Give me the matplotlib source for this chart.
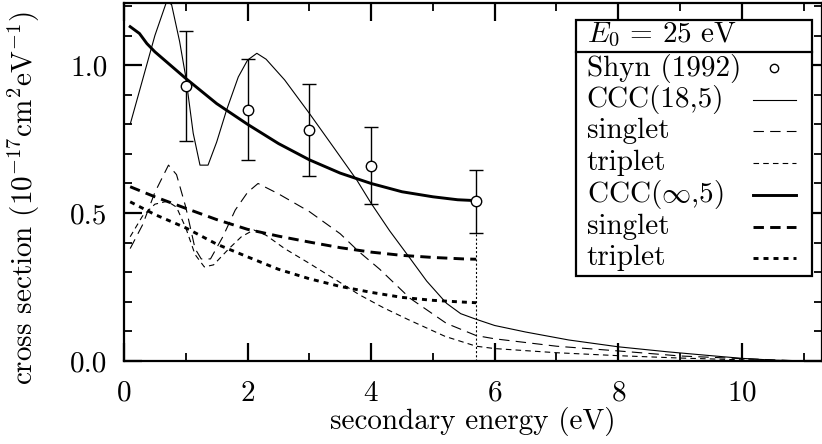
import matplotlib
matplotlib.use("Agg")
import matplotlib.pyplot as plt
from matplotlib.lines import Line2D
from matplotlib.patches import Rectangle

plt.rcParams['font.family'] = ['cmr10', 'DejaVu Serif']
plt.rcParams['mathtext.fontset'] = 'cm'
plt.rcParams['axes.formatter.use_mathtext'] = True
plt.rcParams['axes.unicode_minus'] = False
plt.rcParams['lines.scale_dashes'] = False

# ---------------- data ----------------
# Shyn (1992) experiment
shyn_x = [1.0, 2.0, 3.0, 4.0, 5.7]
shyn_y = [0.93, 0.85, 0.78, 0.66, 0.54]
shyn_err = [0.187, 0.17, 0.155, 0.13, 0.107]

# CCC(18,5) total
c18_x = [0.1, 0.3, 0.5, 0.69, 0.77, 0.9, 1.0, 1.12, 1.23, 1.36, 1.5, 1.66, 1.85, 2.0, 2.15,
         2.3, 2.6, 3.0, 3.4, 3.77, 4.0, 4.3, 4.63, 4.9, 5.22, 5.45, 5.7, 6.0, 6.5, 7.2, 8.0,
         8.8, 9.5, 10.0, 10.5, 11.0]
c18_y = [0.80, 0.95, 1.10, 1.215, 1.205, 1.08, 0.96, 0.77, 0.662, 0.662, 0.74, 0.848, 0.96,
         1.017, 1.04, 1.02, 0.95, 0.837, 0.72, 0.611, 0.533, 0.44, 0.347, 0.27, 0.195, 0.16,
         0.141, 0.12, 0.098, 0.071, 0.048, 0.031, 0.018, 0.009, 0.003, 0.0]
# CCC(18,5) singlet
s18_x = [0.1, 0.3, 0.5, 0.72, 0.85, 1.0, 1.15, 1.25, 1.4, 1.6, 1.8, 2.0, 2.17, 2.5, 3.0,
         3.5, 3.8, 4.14, 4.63, 5.22, 5.7, 6.0, 7.0, 8.0, 9.0, 10.0, 11.0]
s18_y = [0.38, 0.46, 0.57, 0.662, 0.63, 0.52, 0.38, 0.345, 0.345, 0.42, 0.51, 0.57, 0.60,
         0.565, 0.505, 0.43, 0.37, 0.31, 0.212, 0.127, 0.086, 0.075, 0.05, 0.034, 0.017,
         0.008, 0.0]
# CCC(18,5) triplet
t18_x = [0.1, 0.3, 0.5, 0.7, 0.85, 1.0, 1.15, 1.3, 1.45, 1.7, 1.9, 2.1, 2.3, 2.6, 3.0,
         3.5, 3.8, 4.2, 4.6, 5.2, 5.7, 6.0, 7.0, 8.0, 9.0, 10.0, 11.0]
t18_y = [0.42, 0.49, 0.53, 0.54, 0.52, 0.45, 0.36, 0.318, 0.325, 0.38, 0.42, 0.443, 0.425,
         0.38, 0.33, 0.265, 0.225, 0.18, 0.14, 0.083, 0.05, 0.042, 0.028, 0.018, 0.01,
         0.004, 0.0]
# CCC(inf,5) total, singlet, triplet
cinf_x = [0.1, 0.25, 0.37, 0.5, 0.75, 1.0, 1.5, 2.0, 2.5, 3.0, 3.5, 4.0, 4.5, 5.0, 5.4, 5.7]
cinf_y = [1.13, 1.107, 1.073, 1.045, 1.0, 0.955, 0.87, 0.80, 0.735, 0.68, 0.635, 0.60,
          0.572, 0.555, 0.545, 0.542]
sinf_x = [0.1, 0.5, 1.0, 1.5, 2.0, 2.5, 3.0, 3.5, 4.0, 4.5, 5.0, 5.5, 5.7]
sinf_y = [0.589, 0.555, 0.516, 0.478, 0.445, 0.422, 0.402, 0.383, 0.368, 0.357, 0.35, 0.345,
          0.344]
tinf_x = [0.1, 0.5, 1.0, 1.5, 2.0, 2.5, 3.0, 3.5, 4.0, 4.5, 5.0, 5.5, 5.7]
tinf_y = [0.538, 0.495, 0.45, 0.395, 0.352, 0.31, 0.278, 0.252, 0.232, 0.215, 0.205, 0.199,
          0.197]

half_energy = 5.7

x_ticks = [0, 2, 4, 6, 8, 10]
y_ticks = [0.0, 0.5, 1.0]
y_tick_labels = ["0.0", "0.5", "1.0"]

legend_title = r"$E_0\,=\,25$ eV"
labels = ["Shyn (1992)", "CCC(18,5)", "singlet", "triplet", r"CCC($\infty$,5)", "singlet", "triplet"]

# ---------------- figure ----------------
fig = plt.figure(figsize=(8.22, 4.44), dpi=100)
ax = fig.add_axes([124/822, 1-361/444, (821.5-124)/822, 358/444])

FS = 21
thin = 0.8
thick = 2.1
styles = {
    's18': dict(color='black', lw=thin, dashes=(7.5, 4.5)),
    't18': dict(color='black', lw=thin, dashes=(4.0, 3.0)),
    'c18': dict(color='black', lw=thin, linestyle='-'),
    'cinf': dict(color='black', lw=thick, linestyle='-'),
    'sinf': dict(color='black', lw=thick, dashes=(7.5, 4.5)),
    'tinf': dict(color='black', lw=thick, dashes=(3.6, 3.6)),
}

ax.plot(c18_x, c18_y, **styles['c18'])
ax.plot(s18_x, s18_y, **styles['s18'])
ax.plot(t18_x, t18_y, **styles['t18'])
ax.plot(cinf_x, cinf_y, **styles['cinf'])
ax.plot(sinf_x, sinf_y, **styles['sinf'])
ax.plot(tinf_x, tinf_y, **styles['tinf'])

# vertical dotted line at E/2
ax.vlines(half_energy, 0, shyn_y[-1] - shyn_err[-1], colors='black', lw=0.8,
          linestyles=(0, (1.5, 1.5)))

ax.errorbar(shyn_x, shyn_y, yerr=shyn_err, fmt='o', mfc='white', mec='black', mew=1.0,
            ms=7.5, ecolor='black', elinewidth=1.0, capsize=5, capthick=1.0, zorder=5)

ax.set_xlim(0, 11.29)
ax.set_ylim(0, 1.21)
ax.set_xticks(x_ticks)
ax.set_xticks(range(1, 12, 2), minor=True)
ax.set_yticks(y_ticks)
ax.set_yticklabels(y_tick_labels)
ax.set_yticks([0.1, 0.2, 0.3, 0.4, 0.6, 0.7, 0.8, 0.9, 1.1, 1.2], minor=True)

ax.tick_params(which='both', direction='in', top=True, right=True, labelsize=FS)
ax.tick_params(which='major', length=13, width=1.6)
ax.tick_params(which='minor', length=6, width=1.3)
ax.tick_params(axis='x', which='major', pad=14)
ax.tick_params(axis='y', which='major', pad=12)
for sp in ax.spines.values():
    sp.set_linewidth(1.6)

ax.set_xlabel("secondary energy (eV)", fontsize=FS, labelpad=0)
ax.set_ylabel(r"cross section ($10^{-17}$cm$^2$eV$^{-1}$)", fontsize=21)
ax.yaxis.set_label_coords(-0.118, 0.455)

# ---------------- legend (drawn manually) ----------------
lx0, lx1 = 0.6476, 0.9868
ly0, ly1 = 0.2383, 0.9525
ax.add_patch(Rectangle((lx0, ly0), lx1 - lx0, ly1 - ly0, transform=ax.transAxes,
                       facecolor='white', edgecolor='black', lw=1.6, zorder=10))
ax.add_line(Line2D([lx0, lx1], [0.864, 0.864], transform=ax.transAxes, color='black',
                   lw=1.6, zorder=11))
ax.text(0.6633, 0.910, legend_title, transform=ax.transAxes, fontsize=FS,
        va='center', ha='left', zorder=12)
row_y = [0.8176, 0.7291, 0.6425, 0.5531, 0.4637, 0.3743, 0.2877]
keys = [None, 'c18', 's18', 't18', 'cinf', 'sinf', 'tinf']
for yy, lab, key in zip(row_y, labels, keys):
    ax.text(0.6633, yy, lab, transform=ax.transAxes, fontsize=FS, va='center',
            ha='left', zorder=12)
    if key is None:
        ax.add_line(Line2D([0.9319], [yy], transform=ax.transAxes, marker='o', ms=6,
                           mfc='white', mec='black', mew=1.0, ls='none', zorder=12))
    else:
        ax.add_line(Line2D([0.9014, 0.9634], [yy, yy], transform=ax.transAxes, zorder=12,
                           **styles[key]))

fig.savefig("out.png", dpi=100)
